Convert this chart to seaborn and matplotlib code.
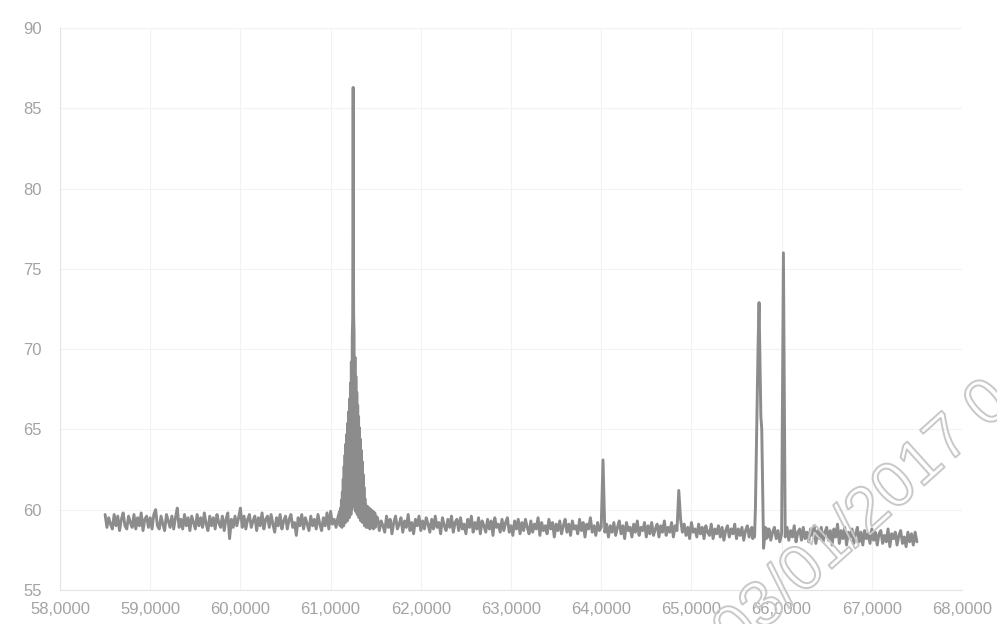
import matplotlib
matplotlib.use("Agg")
import matplotlib.pyplot as plt
import matplotlib.patheffects as pe
import numpy as np
import pandas as pd
import seaborn as sns

# Noisy baseline left of the big peak (58.50 .. 61.08, every 0.02)
left_start, left_step = 58.50, 0.02
left_vals = [
    59.7, 58.9, 59.5, 59.1, 58.8, 59.7, 59.0, 59.6, 58.7, 59.4,
    59.8, 59.0, 58.8, 59.6, 59.2, 58.9, 59.7, 58.8, 59.5, 59.0,
    59.8, 58.7, 59.4, 59.6, 58.9, 59.5, 58.8, 59.7, 60.0, 59.0,
    58.8, 59.6, 59.1, 58.7, 59.7, 59.3, 58.9, 59.6, 58.8, 59.5,
    60.1, 58.9, 59.4, 58.8, 59.7, 59.0, 59.5, 58.7, 59.6, 59.2,
    58.8, 59.7, 59.0, 59.5, 58.9, 59.8, 59.1, 58.7, 59.6, 59.0,
    59.5, 58.8, 59.7, 59.2, 58.9, 59.6, 58.7, 59.4, 59.8, 58.2,
    59.4, 58.9, 59.6, 59.0, 59.5, 60.1, 58.9, 59.6, 58.8, 59.4,
    59.7, 58.9, 59.3, 59.6, 58.7, 59.5, 59.0, 59.8, 58.8, 59.4,
    59.6, 58.9, 59.7, 59.1, 58.6, 59.5, 59.0, 59.7, 58.8, 59.3,
    59.6, 58.8, 59.4, 59.7, 58.9, 59.2, 58.4, 59.5, 59.0, 59.7,
    58.8, 59.5, 59.1, 58.7, 59.6, 59.0, 59.4, 58.8, 59.7, 59.1,
    58.7, 59.5, 59.0, 59.8, 58.8, 59.9, 59.1, 59.4, 58.9, 59.5,
]

# Big peak around 61.25 (61.10 .. 61.50, every 0.005)
peak_start, peak_step = 61.10, 0.005
peak_vals = [
    59.9, 59.0, 60.1, 59.1, 60.6, 58.9, 61.1, 59.2, 61.9, 59.0,
    62.7, 59.3, 63.4, 59.2, 64.1, 59.4, 64.7, 59.3, 65.4, 59.6,
    66.1, 59.5, 66.9, 59.8, 67.9, 59.7, 69.2, 60.0, 70.8, 72.0,
    86.3, 72.2, 71.0, 60.2, 69.5, 59.9, 68.3, 60.1, 67.3, 59.7,
    66.5, 59.8, 65.8, 59.5, 65.1, 59.6, 64.4, 59.3, 63.7, 59.4,
    63.0, 59.2, 62.2, 59.3, 61.4, 59.0, 60.7, 59.2, 60.3, 58.9,
    60.1, 59.1, 60.2, 58.9, 60.0, 59.0, 60.1, 58.8, 59.9, 59.1,
    60.0, 58.9, 59.8, 59.0, 59.9, 58.8, 59.7, 59.1, 59.8, 58.9,
    59.6,
]

# Middle stretch with the two small peaks (61.52 .. 65.66, every 0.02)
mid_start, mid_step = 61.52, 0.02
mid_vals = [
    59.5, 58.7, 59.3, 59.0, 58.6, 59.6, 58.9, 59.4, 58.5, 59.2,
    59.6, 58.8, 59.1, 59.5, 58.6, 59.3, 58.9, 59.7, 58.7, 59.2,
    58.5, 59.4, 59.0, 59.6, 58.7, 59.3, 58.8, 59.5, 59.1, 58.6,
    59.4, 58.8, 59.6, 58.9, 59.2, 58.5, 59.5, 59.0, 58.7, 59.4,
    58.9, 59.6, 58.6, 59.2, 59.4, 58.7, 59.5, 58.8, 59.1, 58.5,
    59.4, 58.9, 59.6, 58.6, 59.2, 58.8, 59.5, 58.5, 59.3, 59.0,
    58.6, 59.4, 58.8, 59.3, 58.4, 59.5, 58.9, 59.1, 58.6, 59.4,
    58.7, 59.2, 59.5, 58.6, 59.0, 58.4, 59.3, 58.8, 59.4, 58.5,
    59.2, 58.7, 59.4, 58.9, 58.5, 59.3, 58.6, 59.1, 58.8, 59.5,
    58.4, 59.2, 58.7, 59.0, 58.5, 59.4, 58.8, 59.2, 58.3, 59.1,
    58.7, 59.3, 58.5, 59.0, 59.4, 58.6, 59.1, 58.4, 59.3, 58.8,
    59.0, 58.5, 59.4, 58.7, 59.2, 58.3, 59.1, 58.8, 59.5, 58.6,
    59.0, 58.4, 59.2, 58.7, 58.9, 63.1, 58.6, 59.1, 58.3, 59.0,
    58.6, 59.2, 58.4, 58.9, 59.3, 58.5, 59.0, 58.2, 59.2, 58.7,
    58.9, 58.3, 59.1, 58.6, 59.3, 58.4, 58.9, 58.7, 59.2, 58.3,
    59.0, 58.5, 59.2, 58.4, 58.8, 59.1, 58.3, 59.0, 58.6, 59.3,
    58.4, 58.9, 58.6, 59.2, 58.3, 59.0, 58.7, 61.2, 59.4, 58.6,
    59.1, 58.4, 58.9, 58.2, 59.2, 58.6, 58.8, 58.3, 59.1, 58.5,
    58.9, 58.2, 59.0, 58.6, 58.4, 59.1, 58.2, 58.8, 58.5, 59.0,
    58.3, 58.9, 58.1, 58.7, 59.0, 58.3, 58.8, 58.5, 59.1, 58.2,
    58.8, 58.4, 58.9, 58.1, 58.7, 59.0, 58.3, 58.8,
]

# Twin peak near 65.76 (65.67 .. 65.85, every 0.01)
twin_start, twin_step = 65.67, 0.01
twin_vals = [
    58.9, 58.2, 58.8, 58.3, 60.2, 63.5, 67.0, 70.5, 72.9, 69.5,
    65.8, 65.0, 61.5, 57.6, 58.2, 58.9, 58.2, 58.8, 58.3,
]

# Right stretch with the sharp line at 66.02 (65.86 .. 67.50, every 0.02)
right_start, right_step = 65.86, 0.02
right_vals = [
    58.8, 58.1, 58.6, 58.9, 58.2, 58.7, 58.0, 58.5, 76.0, 58.3,
    58.9, 58.1, 58.7, 58.3, 59.0, 58.0, 58.6, 58.8, 58.1, 58.9,
    58.2, 58.6, 58.0, 58.8, 58.4, 59.0, 57.9, 58.7, 58.2, 58.9,
    58.0, 58.6, 58.9, 58.1, 58.7, 57.8, 58.8, 58.3, 59.1, 57.9,
    58.7, 58.2, 58.9, 57.8, 58.6, 58.3, 58.8, 57.9, 58.5, 58.9,
    58.0, 58.6, 57.8, 58.7, 58.2, 58.5, 57.9, 58.8, 58.1, 58.6,
    57.8, 58.5, 58.7, 57.9, 58.4, 58.0, 58.8, 57.7, 58.5, 58.2,
    58.6, 57.8, 58.4, 58.7, 57.9, 58.3, 57.7, 58.6, 58.0, 58.5,
    57.8, 58.6, 58.0,
]

x_ticks = [58, 59, 60, 61, 62, 63, 64, 65, 66, 67, 68]
x_tick_labels = ["58,0000", "59,0000", "60,0000", "61,0000", "62,0000", "63,0000",
                 "64,0000", "65,0000", "66,0000", "67,0000", "68,0000"]
y_ticks = [55, 60, 65, 70, 75, 80, 85, 90]
stamp_text = "03/01/2017 0"

# Put the pieces together into one frame
segments = [
    (left_start, left_step, left_vals),
    (peak_start, peak_step, peak_vals),
    (mid_start, mid_step, mid_vals),
    (twin_start, twin_step, twin_vals),
    (right_start, right_step, right_vals),
]
xs, ys = [], []
for start, step, vals in segments:
    xs.extend(start + step * np.arange(len(vals)))
    ys.extend(vals)
spectrum = pd.DataFrame({"x": xs, "y": ys})

sns.set_style("white")
plt.rcParams["font.family"] = ["Liberation Sans", "DejaVu Sans"]

fig = plt.figure(figsize=(9.97, 6.24), dpi=100)
ax = fig.add_axes([0.0602, 0.0545, 0.9047, 0.9006])

sns.lineplot(data=spectrum, x="x", y="y", ax=ax, color="#8c8c8c",
             linewidth=2.1, sort=False, estimator=None)

ax.set_xlim(58, 68)
ax.set_ylim(55, 90)
ax.set_xticks(x_ticks)
ax.set_xticklabels(x_tick_labels)
ax.set_yticks(y_ticks)
ax.set_xlabel("")
ax.set_ylabel("")
ax.grid(True, color="#f2f2f2", linewidth=0.8)
ax.set_axisbelow(True)
for side in ["top", "right"]:
    ax.spines[side].set_visible(False)
for side in ["left", "bottom"]:
    ax.spines[side].set_color("#e4e4e4")
ax.tick_params(axis="both", length=0, colors="#a3a3a3", labelsize=12)
ax.tick_params(axis="x", pad=9)
ax.tick_params(axis="y", pad=13)

# faint outlined date stamp across the lower right corner
fig.text(0.738, -0.050, stamp_text, rotation=42, rotation_mode="anchor",
         ha="left", va="baseline", fontsize=46, color="none",
         path_effects=[pe.withStroke(linewidth=1.4, foreground="#c8c8c8")])

fig.savefig("out.png", dpi=100)
